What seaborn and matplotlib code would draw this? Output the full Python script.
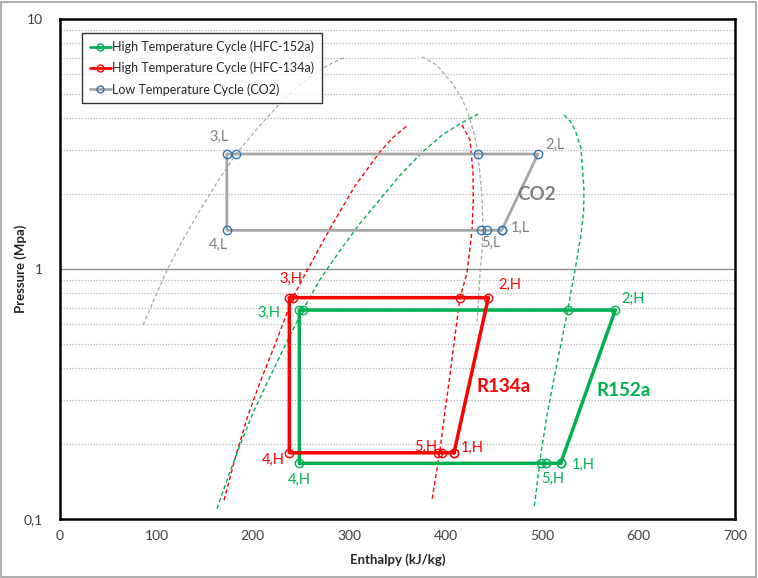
import numpy as np
import pandas as pd
import matplotlib
matplotlib.use("Agg")
import matplotlib.pyplot as plt
from matplotlib.lines import Line2D
from matplotlib.patches import Rectangle
from matplotlib.ticker import FixedLocator, FixedFormatter, MultipleLocator, NullFormatter
import seaborn as sns

# ---- Cycle state points (enthalpy kJ/kg, pressure MPa), path order 1-2-...-1 ----
co2_h = [458.0, 495.7, 433.5, 182.5, 173.0, 173.0, 436.6, 442.8, 458.0]
co2_p = [1.428, 2.884, 2.884, 2.884, 2.884, 1.428, 1.428, 1.428, 1.428]

r134a_h = [408.6, 444.2, 414.8, 241.3, 237.8, 237.8, 392.3, 395.8, 408.6]
r134a_p = [0.184, 0.768, 0.768, 0.768, 0.768, 0.184, 0.184, 0.184, 0.184]

r152a_h = [519.2, 575.9, 526.5, 251.7, 248.2, 248.2, 498.8, 504.0, 519.2]
r152a_p = [0.167, 0.685, 0.685, 0.685, 0.685, 0.167, 0.167, 0.167, 0.167]

# ---- Saturation curves ----
co2_liq_h = [86.1, 98.5, 111.0, 127.0, 145.2, 163.5, 182.5, 206.0, 231.3, 250.0, 269.6, 283.0, 296.6]
co2_liq_p = [0.597, 0.77, 0.991, 1.30, 1.72, 2.24, 2.88, 3.70, 4.74, 5.50, 6.25, 6.70, 7.05]
co2_vap_h = [375.4, 390.6, 406.5, 416.6, 423.1, 429.3, 433.5, 437.6, 438.7, 437.6, 435.6, 432.4]
co2_vap_p = [7.05, 6.55, 5.55, 4.82, 4.21, 3.49, 2.91, 1.94, 1.43, 1.18, 0.964, 0.597]

r134a_liq_h = [170.1, 182.5, 195.0, 208.4, 224.0, 241.3, 260.0, 280.0, 305.9, 331.8, 345.0, 360.9]
r134a_liq_p = [0.119, 0.180, 0.26, 0.36, 0.51, 0.768, 1.05, 1.45, 2.15, 2.94, 3.35, 3.77]
r134a_vap_h = [416.9, 425.2, 428.3, 428.6, 427.3, 422.1, 414.8, 409.6, 404.4, 399.0, 394.1, 385.8]
r134a_vap_p = [3.77, 3.28, 2.42, 1.90, 1.43, 0.964, 0.768, 0.54, 0.377, 0.265, 0.189, 0.119]

r152a_liq_h = [162.8, 175.0, 187.2, 200.0, 214.7, 230.0, 251.7, 269.0, 290.0, 311.0, 331.8, 353.0, 376.4, 397.0, 416.9, 433.5]
r152a_liq_p = [0.110, 0.150, 0.200, 0.265, 0.35, 0.465, 0.685, 0.90, 1.18, 1.52, 1.90, 2.38, 2.95, 3.45, 3.85, 4.17]
r152a_vap_h = [522.7, 529.0, 534.1, 540.3, 543.4, 543.0, 540.3, 534.1, 526.5, 519.0, 512.0, 505.0, 498.5, 491.6]
r152a_vap_p = [4.13, 3.90, 3.60, 3.05, 2.07, 1.70, 1.37, 0.991, 0.685, 0.49, 0.36, 0.26, 0.18, 0.110]

# ---- Point labels: (text, index into cycle arrays) ----
co2_labels = ["1,L", "2,L", "3,L", "4,L", "5,L"]
co2_label_idx = [0, 1, 4, 5, 6]
r134a_labels = ["1,H", "2,H", "3,H", "4,H", "5,H"]
r134a_label_idx = [0, 1, 4, 5, 6]
r152a_labels = ["1,H", "2;H", "3,H", "4,H", "5,H"]
r152a_label_idx = [0, 1, 4, 5, 6]

legend_labels = ["High Temperature Cycle (HFC-152a)",
                 "High Temperature Cycle (HFC-134a)",
                 "Low Temperature Cycle (CO2)"]

x_ticks = [0, 100, 200, 300, 400, 500, 600, 700]
y_ticks = [0.1, 1, 10]
y_tick_labels = ["0,1", "1", "10"]

GREEN = "#00B050"
RED = "#FF0000"
GRAY = "#A6A6A6"
BLUE = "#2E75B6"
LABEL_GRAY = "#808080"

sns.set_theme(style="white")
plt.rcParams["font.family"] = ["Lato", "DejaVu Sans"]

fig = plt.figure(figsize=(7.58, 5.78), dpi=100)
ax = fig.add_axes([60 / 758, 1 - 519 / 578, 675 / 758, 500 / 578])
ax.set_yscale("log")

# saturation domes (dashed)
def dome(h, p, color, lw=1.0):
    df = pd.DataFrame({"h": h, "p": p})
    sns.lineplot(data=df, x="h", y="p", sort=False, estimator=None, ax=ax,
                 color=color, lw=lw, linestyle=(0, (3, 2)))

dome(co2_liq_h, co2_liq_p, GRAY, 0.9)
dome(co2_vap_h, co2_vap_p, GRAY, 0.9)
dome(r134a_liq_h, r134a_liq_p, RED, 1.0)
dome(r134a_vap_h, r134a_vap_p, RED, 1.0)
dome(r152a_liq_h, r152a_liq_p, GREEN, 1.0)
dome(r152a_vap_h, r152a_vap_p, GREEN, 1.0)

# cycles
def cycle(h, p, color, mcolor, lw):
    df = pd.DataFrame({"h": h, "p": p})
    sns.lineplot(data=df, x="h", y="p", sort=False, estimator=None, ax=ax,
                 color=color, lw=lw, marker="o", markersize=6,
                 markerfacecolor="none", markeredgecolor=mcolor,
                 markeredgewidth=1.0)

cycle(co2_h, co2_p, GRAY, BLUE, 2.0)
cycle(r152a_h, r152a_p, GREEN, GREEN, 2.5)
cycle(r134a_h, r134a_p, RED, RED, 2.5)

# state labels (offsets in pixels from the state point)
co2_off = [(19, 2), (17, 9), (-8, 17), (-8, -15), (10, -13)]
r134a_off = [(18, 5), (21, 13), (2, 19), (-16, -7), (-13, 6)]
r152a_off = [(23, -2), (18, 11), (-30, -3), (0, -17), (12, -16)]

def put_labels(labels, idx, h, p, offs, color):
    for t, i, o in zip(labels, idx, offs):
        ax.annotate(t, (h[i], p[i]), xytext=o, textcoords="offset pixels",
                    ha="center", va="center", color=color, fontsize=10.5)

put_labels(co2_labels, co2_label_idx, co2_h, co2_p, co2_off, LABEL_GRAY)
put_labels(r134a_labels, r134a_label_idx, r134a_h, r134a_p, r134a_off, RED)
put_labels(r152a_labels, r152a_label_idx, r152a_h, r152a_p, r152a_off, GREEN)

ax.text(494.7, 1.995, "CO2", color=LABEL_GRAY, fontsize=13.5, fontweight="bold",
        ha="center", va="center")
ax.text(460.4, 0.338, "R134a", color=RED, fontsize=13.5, fontweight="bold",
        ha="center", va="center")
ax.text(584.9, 0.328, "R152a", color=GREEN, fontsize=13.5, fontweight="bold",
        ha="center", va="center")

# axes
ax.set_xlim(0, 700)
ax.set_ylim(0.1, 10)
ax.xaxis.set_major_locator(FixedLocator(x_ticks))
ax.xaxis.set_minor_locator(MultipleLocator(20))
ax.set_xticklabels([str(v) for v in x_ticks])
ax.yaxis.set_major_locator(FixedLocator(y_ticks))
ax.yaxis.set_major_formatter(FixedFormatter(y_tick_labels))
minor_y = [m * d for d in (0.1, 1) for m in range(2, 10)]
ax.yaxis.set_minor_locator(FixedLocator(minor_y))
ax.yaxis.set_minor_formatter(NullFormatter())

ax.tick_params(axis="both", which="both", direction="in", colors="black",
               labelcolor="#404040", labelsize=10)
ax.tick_params(axis="both", which="major", length=5, width=1, pad=8)
ax.tick_params(axis="both", which="minor", length=3, width=0.8)
ax.tick_params(axis="y", which="major", pad=12)

ax.grid(False)
for v in minor_y:
    ax.axhline(v, color="#BFBFBF", lw=0.9, ls=(0, (1.2, 1.2)), zorder=0)
ax.axhline(1, color="#8C8C8C", lw=1.0, zorder=0)

for s in ax.spines.values():
    s.set_color("black")
    s.set_linewidth(1.8)

ax.set_xlabel("Enthalpy (kJ/kg)", fontsize=9.5, fontweight="bold", labelpad=8)
ax.set_ylabel("Pressure (Mpa)", fontsize=9.5, fontweight="bold")
ax.yaxis.set_label_coords(-33 / 675, 0.5)

handles = [
    Line2D([], [], color=GREEN, lw=2, marker="o", markersize=5,
           markerfacecolor="none", markeredgecolor=GREEN),
    Line2D([], [], color=RED, lw=2, marker="o", markersize=5,
           markerfacecolor="none", markeredgecolor=RED),
    Line2D([], [], color=GRAY, lw=2, marker="o", markersize=5,
           markerfacecolor="none", markeredgecolor=BLUE),
]
leg = ax.legend(handles, legend_labels, loc="upper left",
                bbox_to_anchor=(22 / 675, 486 / 500), borderaxespad=0,
                fontsize=9, frameon=True, fancybox=False, handlelength=1.7,
                handletextpad=0.1, borderpad=0.6, labelspacing=0.7)
leg.get_frame().set_edgecolor("black")
leg.get_frame().set_linewidth(1.0)

fig.patches.append(Rectangle((1 / 758, 1 / 578), 755 / 758, 575 / 578,
                             transform=fig.transFigure, fill=False,
                             edgecolor="#A0A0A0", lw=1.2))

fig.savefig("out.png", dpi=100)
